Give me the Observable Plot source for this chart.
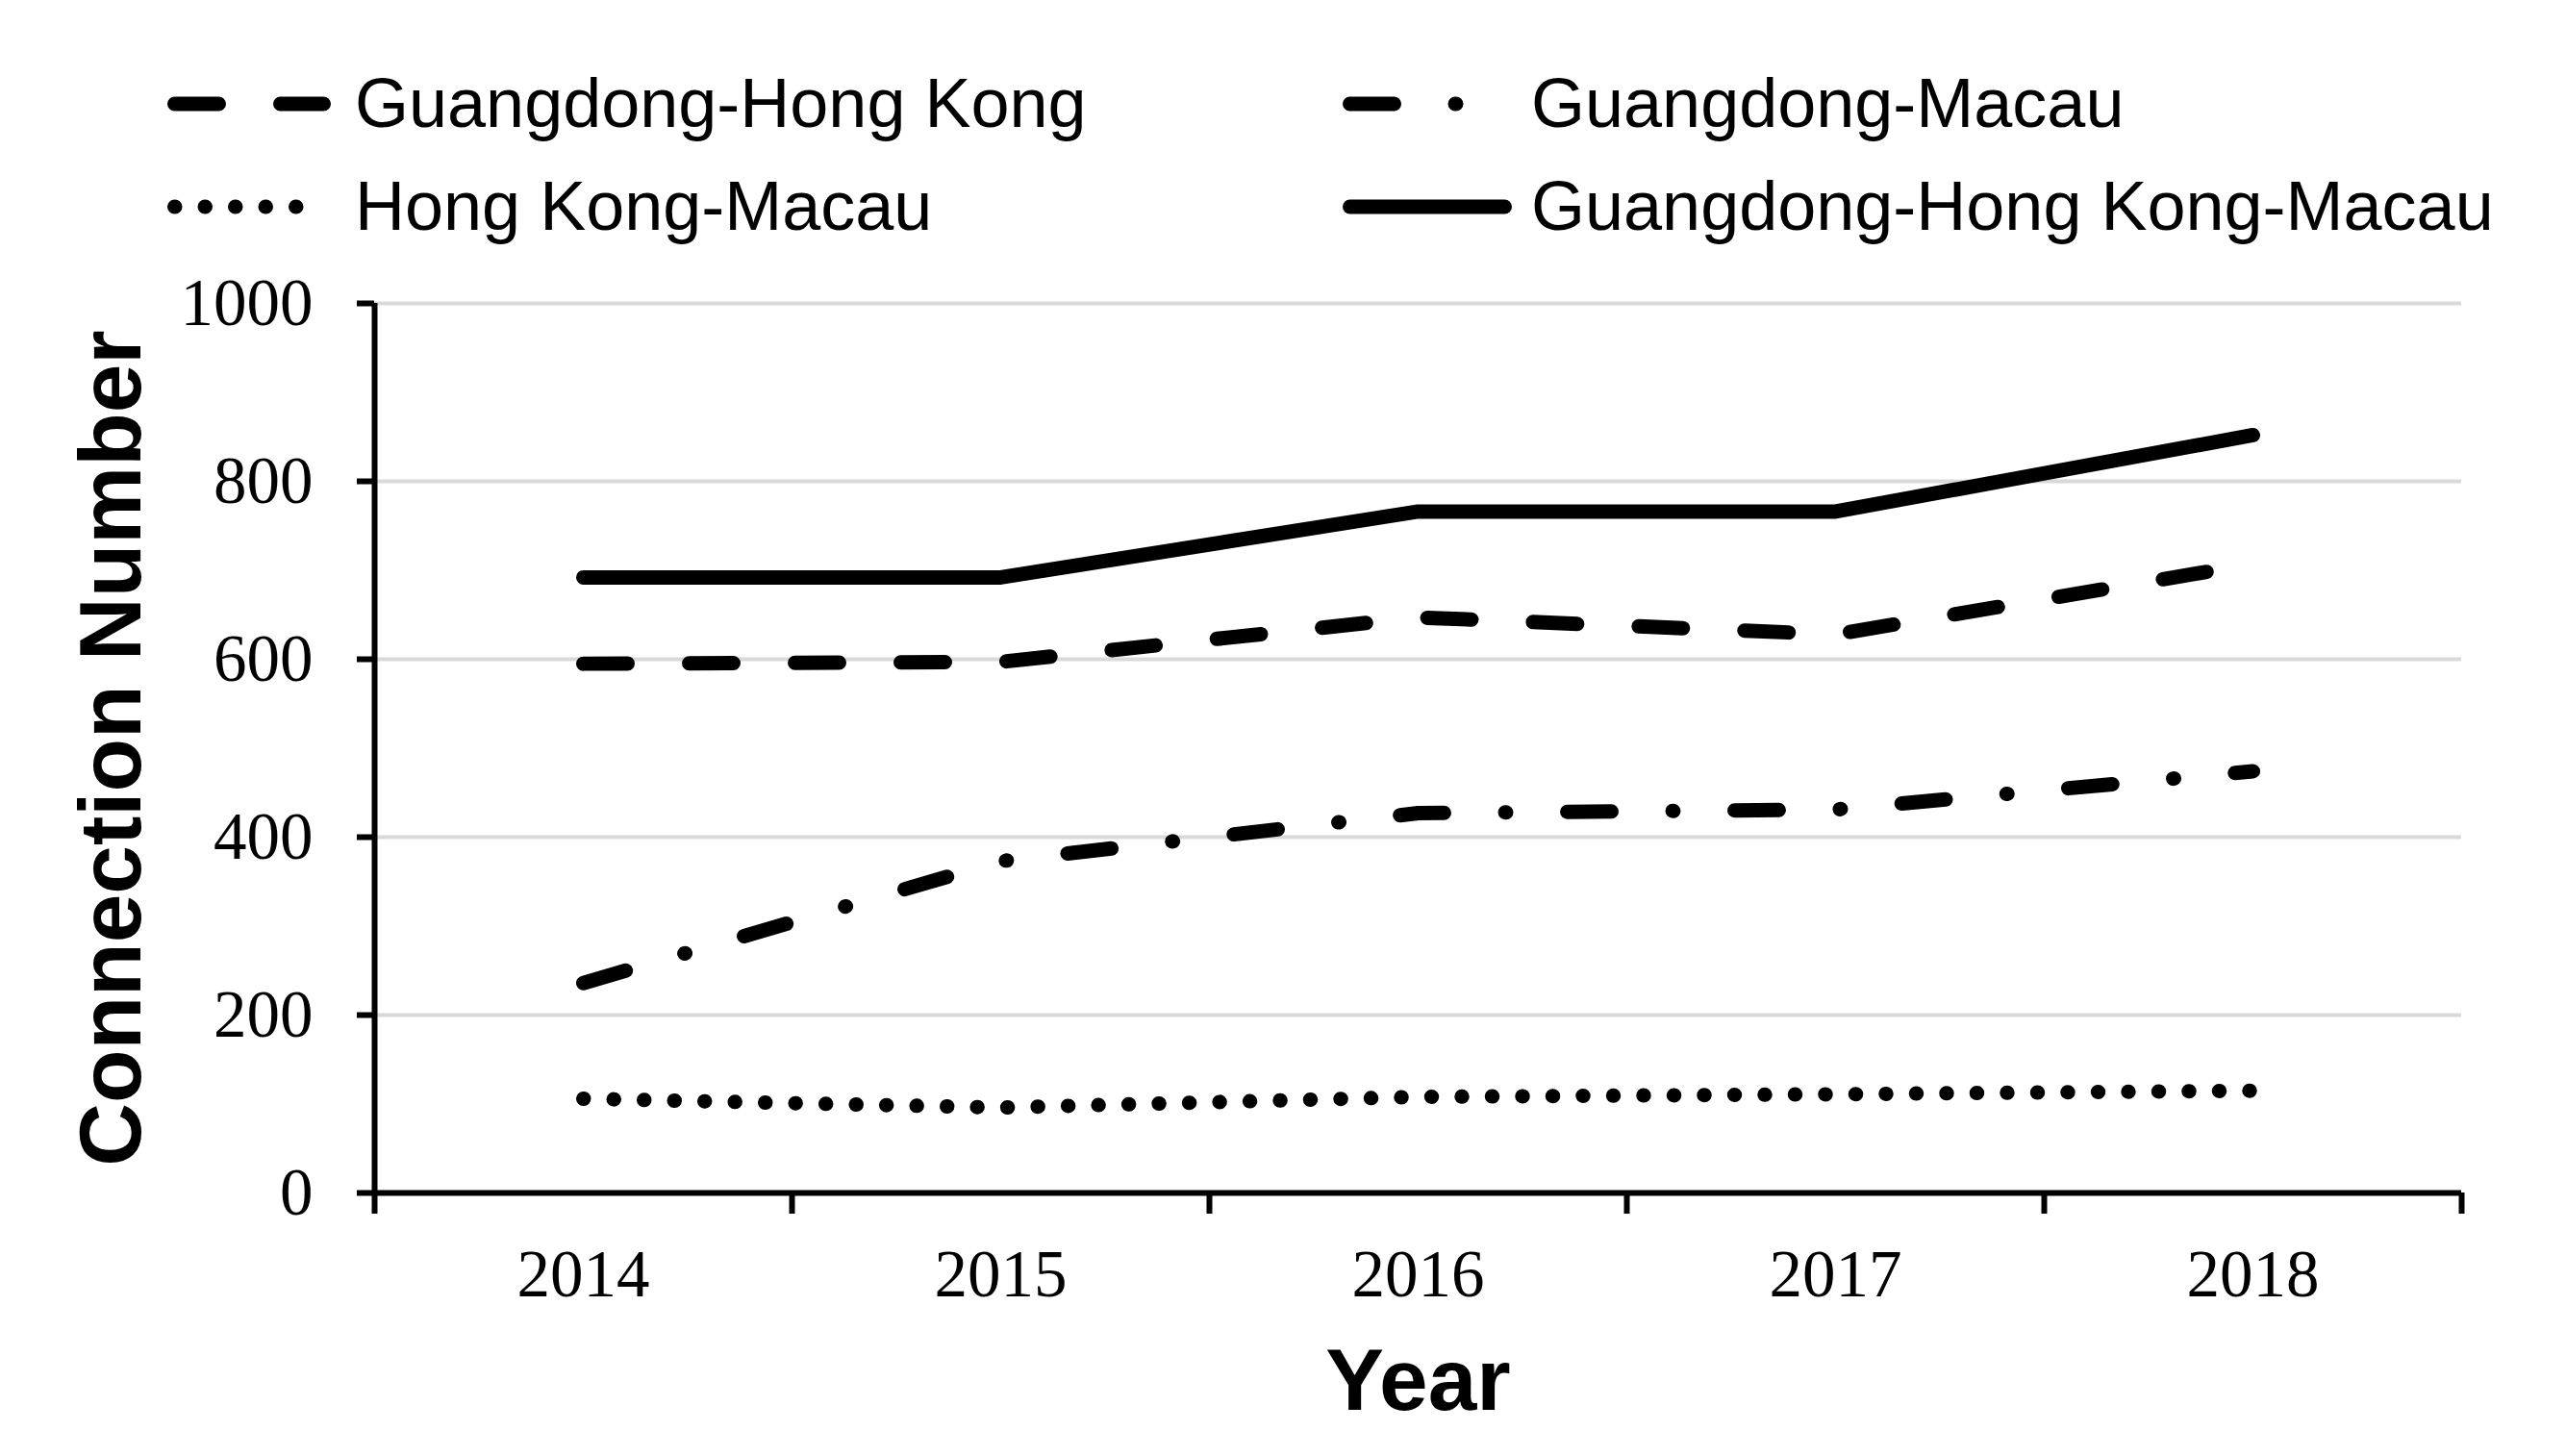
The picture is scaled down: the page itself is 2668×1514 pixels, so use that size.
<!DOCTYPE html>
<html>
<head>
<meta charset="utf-8">
<script src="https://cdn.jsdelivr.net/npm/d3@7"></script>
<script src="https://cdn.jsdelivr.net/npm/@observablehq/plot@0.6"></script>
<style>
  html, body { margin: 0; padding: 0; background: #fff; }
  #legend svg, #chart svg { display: block; overflow: visible; }
</style>
</head>
<body>
<div id="legend"></div>
<div id="chart"></div>
<script>
// ---- data ----
const years = [2014, 2015, 2016, 2017, 2018];
const guangdongHongKong = [595, 597, 647, 628, 707];
const guangdongMacau = [236, 373, 427, 431, 474];
const hongKongMacau = [106, 96, 108, 111, 115];
const guangdongHongKongMacau = [692, 692, 766, 766, 852];
const yTicks = [0, 200, 400, 600, 800, 1000];
const xBoundaries = [2013.5, 2014.5, 2015.5, 2016.5, 2017.5, 2018.5];
const seriesNames = ["Guangdong-Hong Kong", "Guangdong-Macau", "Hong Kong-Macau", "Guangdong-Hong Kong-Macau"];

// ---- styles ----
const dashStyles = {
  "Guangdong-Hong Kong": "46 64",
  "Guangdong-Macau": "46 63.5 1 63.5",
  "Hong Kong-Macau": "0.5 31",
  "Guangdong-Hong Kong-Macau": null
};
const LW = 15;

const rows = years.map((year, i) => ({
  year,
  ghk: guangdongHongKong[i],
  gm: guangdongMacau[i],
  hkm: hongKongMacau[i],
  ghkm: guangdongHongKongMacau[i]
}));

// ---- legend (SVG above the plot) ----
const legendH = 270;
const lsvg = d3.select("#legend").append("svg").attr("width", 2668).attr("height", legendH);
const legendItems = [
  {name: seriesNames[0], x0: 174, x1: 344, tx: 369, ly: 108, by: 132},
  {name: seriesNames[1], x0: 1396, x1: 1572, tx: 1592, ly: 108, by: 132},
  {name: seriesNames[2], x0: 174, x1: 344, tx: 369, ly: 215, by: 239},
  {name: seriesNames[3], x0: 1396, x1: 1572, tx: 1592, ly: 215, by: 239}
];
for (const it of legendItems) {
  lsvg.append("line")
    .attr("x1", it.x0 + LW / 2).attr("x2", it.x1 - LW / 2)
    .attr("y1", it.ly).attr("y2", it.ly)
    .attr("stroke", "black").attr("stroke-width", LW)
    .attr("stroke-linecap", "round")
    .attr("stroke-dasharray", dashStyles[it.name]);
  lsvg.append("text")
    .attr("x", it.tx).attr("y", it.by)
    .attr("font-family", "Liberation Sans, Arial, sans-serif")
    .attr("font-size", 72)
    .attr("fill", "black")
    .text(it.name);
}

// ---- plot ----
const lineOpts = (y, name) => ({
  x: "year", y,
  stroke: "black", strokeWidth: LW,
  strokeLinecap: "round", strokeLinejoin: "round",
  strokeDasharray: dashStyles[name]
});

const chart = Plot.plot({
  width: 2668,
  height: 1514 - legendH,
  marginTop: 315 - legendH,
  marginBottom: 274,
  marginLeft: 389,
  marginRight: 109,
  style: {fontFamily: "Liberation Serif, Times New Roman, serif", fontSize: "69px", color: "black", background: "white"},
  x: {type: "linear", domain: d3.extent(xBoundaries)},
  y: {domain: d3.extent(yTicks)},
  marks: [
    Plot.gridY({ticks: yTicks, stroke: "#d9d9d9", strokeOpacity: 1, strokeWidth: 4}),
    Plot.ruleY([yTicks[0]], {stroke: "black", strokeWidth: 6}),
    Plot.ruleX([xBoundaries[0]], {stroke: "black", strokeWidth: 6}),
    Plot.axisY({ticks: yTicks, tickSize: 18, tickPadding: 46, strokeWidth: 6, tickFormat: d => String(d),
      fontSize: 69, fontFamily: "Liberation Serif, Times New Roman, serif", label: null}),
    Plot.axisX({ticks: xBoundaries, tickSize: 22, strokeWidth: 6, tickFormat: () => "", label: null}),
    Plot.axisX({ticks: years, tickSize: 0, tickPadding: 58, tickFormat: d => String(d),
      fontSize: 69, fontFamily: "Liberation Serif, Times New Roman, serif", label: null}),
    Plot.line(rows, lineOpts("hkm", seriesNames[2])),
    Plot.line(rows, lineOpts("gm", seriesNames[1])),
    Plot.line(rows, lineOpts("ghk", seriesNames[0])),
    Plot.line(rows, lineOpts("ghkm", seriesNames[3])),
    Plot.text(["Connection Number"], {text: d => d, frameAnchor: "left", rotate: -90, dx: -244,
      lineAnchor: "bottom", textAnchor: "middle", fontSize: 91, fontWeight: "bold",
      fontFamily: "Liberation Sans, Arial, sans-serif", fill: "black"}),
    Plot.text(["Year"], {text: d => d, frameAnchor: "bottom", dy: 225, lineAnchor: "bottom",
      textAnchor: "middle", fontSize: 91, fontWeight: "bold",
      fontFamily: "Liberation Sans, Arial, sans-serif", fill: "black"})
  ]
});
document.getElementById("chart").appendChild(chart);
</script>
</body>
</html>
